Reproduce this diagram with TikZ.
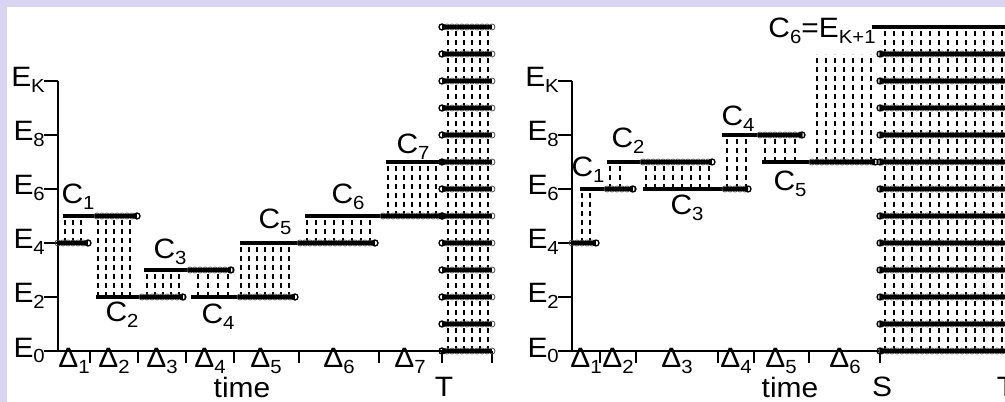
\documentclass[tikz,border=0pt]{standalone}
\usepackage{fontspec}
\setmainfont{Liberation Sans}[FakeStretch=1.07]
\definecolor{slideedge}{RGB}{216,212,242}
\tikzset{
  solidlvl/.style={line width=4pt},
  beadcore/.style={line width=3.4pt},
  beadring/.style={draw=black!70, line width=0.8pt},
  gapline/.style={line width=1.2pt, dash pattern=on 5pt off 4pt},
  axisline/.style={line width=1.1pt},
  lab/.style={font=\fontsize{28}{28}\selectfont, inner sep=0pt}
}
\newcommand\sub[2]{#1\raisebox{-0.4ex}{\fontsize{19}{19}\selectfont #2}}
% chain of beads from #1 to #2 on level #3, ring at #2
\newcommand\chain[3]{%
  \pgfmathsetmacro\chainnext{#1+5*sign(#2-#1)}
  \foreach \bx in {#1,\chainnext,...,#2} \draw[beadring] (\bx,#3) circle (3pt);
  \draw[beadcore] (#1,#3) -- (#2,#3);
  \draw[line width=1.3pt] (#2,#3) circle (3pt);
}
\begin{document}
\begin{tikzpicture}[x=1pt,y=1pt]
  \useasboundingbox (0,0) rectangle (1005,402);
  \fill[slideedge] (0,0) rectangle (7,402);
  \fill[slideedge] (0,395) rectangle (1005,402);

  % left panel
  \begin{scope}[shift={(58,51)}, y=27pt]
    % axes
    \draw[axisline] (0,10) -- (0,0);
    \draw[axisline] (-14,0) -- (434,0);
    \foreach \l/\t in {0/0,2/2,4/4,6/6,8/8,10/K} {
      \draw[axisline] (-14,\l) -- (0,\l);
      \node[lab, anchor=base east, yshift=-6pt] (eL\l) at (-13,\l) {\sub{E}{\t}};
    }
    \foreach \t in {32,80,128,176,241,321,384,434}
      \draw[axisline] (\t,0) -- (\t,-0.45);
    \foreach \c/\i in {16/1,56/2,104/3,152/4,208/5,281/6,352/7}
      \node[lab, anchor=base] (dL\i) at (\c,-0.62) {\sub{Δ}{\i}};
    \node[lab, anchor=base] (timeL) at (184,-1.74) {time};
    \node[lab, anchor=base] (tL) at (386,-1.68) {T};

    % gaps
    \foreach \x in {7,15,23} \draw[gapline] (\x,4) -- (\x,5);
    \foreach \x in {40,48,56,64,72} \draw[gapline] (\x,2) -- (\x,5);
    \foreach \x in {89,97,105,113,121} \draw[gapline] (\x,2) -- (\x,3);
    \foreach \x in {140,150,160,170} \draw[gapline] (\x,2) -- (\x,3);
    \foreach \x in {183,191,...,235} \draw[gapline] (\x,2) -- (\x,4);
    \foreach \x in {249,258,...,316} \draw[gapline] (\x,4) -- (\x,5);
    \foreach \x in {330,338,...,380} \draw[gapline] (\x,5) -- (\x,7);
    \foreach \x in {390,398,...,430} \draw[gapline] (\x,0) -- (\x,12);

    % levels
    \chain{0}{30}{4}
    \draw[solidlvl] (5,5) -- (39,5);     \chain{39}{79}{5}
    \draw[solidlvl] (38,2) -- (84,2);    \chain{84}{125}{2}
    \draw[solidlvl] (86,3) -- (132,3);   \chain{132}{173}{3}
    \draw[solidlvl] (133,2) -- (182,2);  \chain{182}{237}{2}
    \draw[solidlvl] (182,4) -- (242,4);  \chain{242}{317}{4}
    \draw[solidlvl] (247,5) -- (325,5);  \chain{325}{384}{5}
    \draw[solidlvl] (328,7) -- (384,7);
    \foreach \l in {0,...,12} { \chain{434}{384}{\l} }

    \node[lab] (c1L) at (20,5.7) {\sub{C}{1}};
    \node[lab] (c2L) at (64,1.33) {\sub{C}{2}};
    \node[lab] (c3L) at (112,3.67) {\sub{C}{3}};
    \node[lab] (c4L) at (160,1.26) {\sub{C}{4}};
    \node[lab] (c5L) at (217,4.78) {\sub{C}{5}};
    \node[lab] (c6L) at (290,5.7) {\sub{C}{6}};
    \node[lab] (c7L) at (355,7.55) {\sub{C}{7}};
  \end{scope}

  % right panel
  \begin{scope}[shift={(572,51)}, y=27pt]
    % axes
    \draw[axisline] (0,10) -- (0,0);
    \draw[axisline] (-14,0) -- (440,0);
    \foreach \l/\t in {0/0,2/2,4/4,6/6,8/8,10/K} {
      \draw[axisline] (-14,\l) -- (0,\l);
      \node[lab, anchor=base east, yshift=-6pt] (eR\l) at (-13,\l) {\sub{E}{\t}};
    }
    \foreach \t in {28,64,146,182,237,308}
      \draw[axisline] (\t,0) -- (\t,-0.45);
    \foreach \c/\i in {14/1,46/2,105/3,164/4,209/5,273/6}
      \node[lab, anchor=base] (dR\i) at (\c,-0.62) {\sub{Δ}{\i}};
    \node[lab, anchor=base] (timeR) at (218,-1.74) {time};
    \node[lab, anchor=base] (sR) at (310,-1.68) {S};
    \node[lab, anchor=base] (tR) at (434,-1.68) {T};

    % gaps
    \foreach \x in {10,18} \draw[gapline] (\x,4) -- (\x,6);
    \foreach \x in {38,48} \draw[gapline] (\x,6) -- (\x,7);
    \foreach \x in {74,83,...,137} \draw[gapline] (\x,6) -- (\x,7);
    \foreach \x in {155,165,174} \draw[gapline] (\x,6) -- (\x,8);
    \foreach \x in {193,203,213,223} \draw[gapline] (\x,7) -- (\x,8);
    \foreach \x in {245,254,...,300} \draw[gapline] (\x,7) -- (\x,11);
    \foreach \x in {313,322,...,440} \draw[gapline] (\x,0) -- (\x,12);

    % levels
    \chain{0}{24}{4}
    \draw[solidlvl] (8,6) -- (35,6);     \chain{35}{61}{6}
    \draw[solidlvl] (35,7) -- (71,7);    \chain{71}{140}{7}
    \draw[solidlvl] (71,6) -- (153,6);   \chain{153}{176}{6}
    \draw[solidlvl] (150,8) -- (188,8);  \chain{188}{230}{8}
    \draw[solidlvl] (190,7) -- (240,7);  \chain{240}{303}{7}
    \draw[solidlvl] (300,12) -- (440,12);
    \foreach \l in {0,...,11} { \chain{440}{308}{\l} }

    \node[lab] (c1R) at (16,6.7) {\sub{C}{1}};
    \node[lab] (c2R) at (56,7.8) {\sub{C}{2}};
    \node[lab] (c3R) at (115,5.3) {\sub{C}{3}};
    \node[lab] (c4R) at (166,8.6) {\sub{C}{4}};
    \node[lab] (c5R) at (218,6.2) {\sub{C}{5}};
    \node[lab] (c6R) at (250,11.85) {\sub{C}{6}=E\raisebox{-0.4ex}{\fontsize{19}{19}\selectfont K+1}};
  \end{scope}
\end{tikzpicture}
\end{document}
